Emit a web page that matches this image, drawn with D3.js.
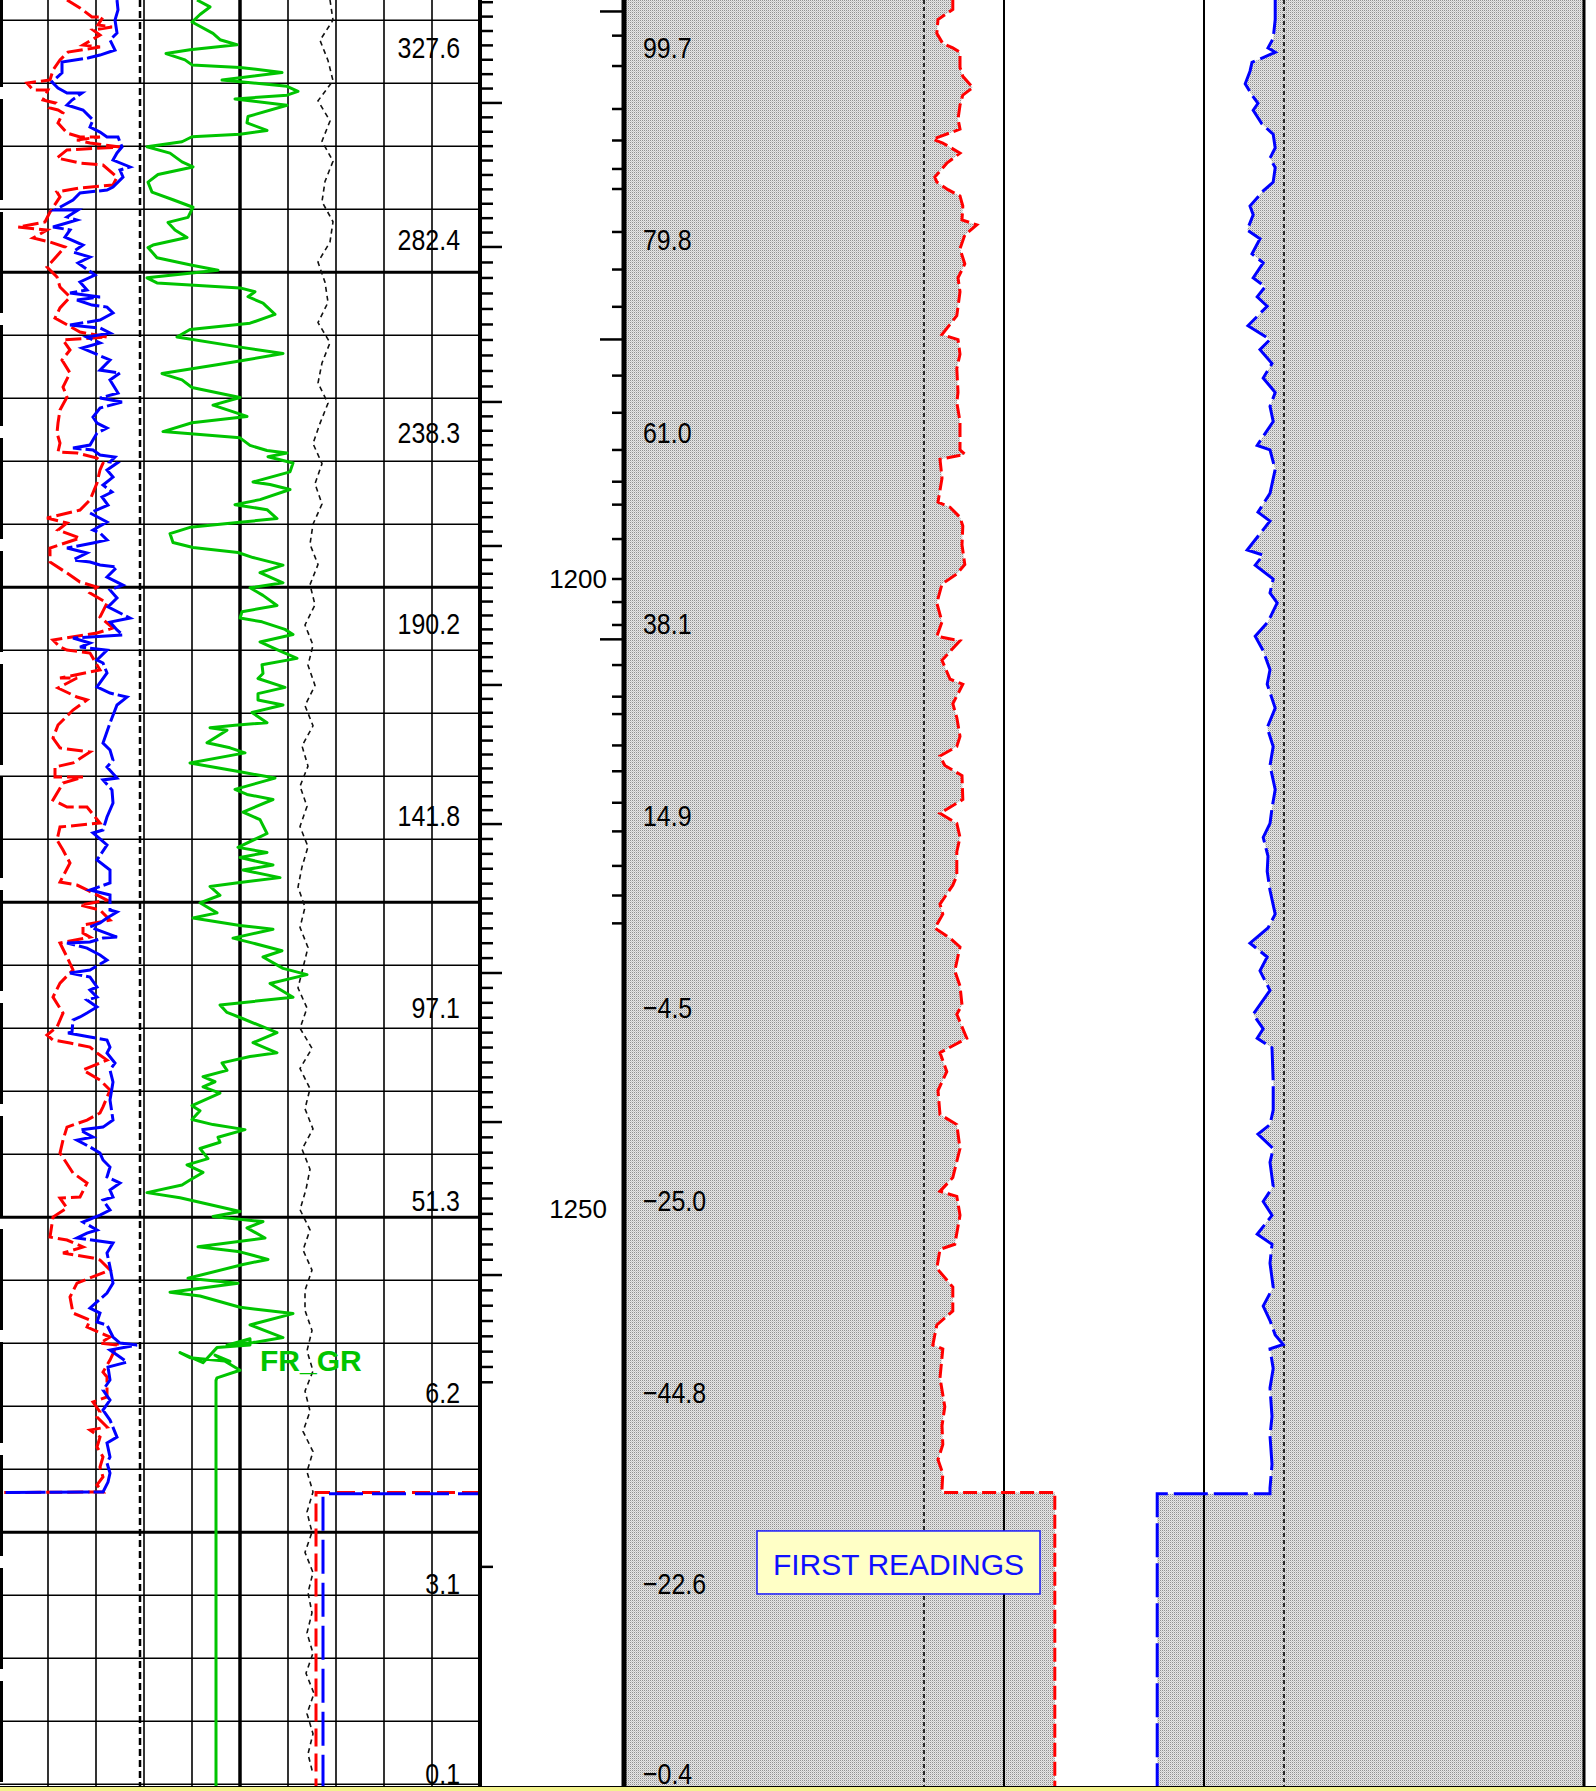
<!DOCTYPE html>
<html>
<head>
<meta charset="utf-8">
<script src="https://cdn.jsdelivr.net/npm/d3@7"></script>
<style>
body { margin: 0; background: #fff; }
svg { display: block; font-family: "Liberation Sans", Arial, sans-serif; }
</style>
</head>
<body>
<svg id="log" width="1596" height="1791"></svg>
<script>
// Depth window of the plot (m)
const depthTop = 1154.05;
const depthBottom = 1295.95;
const stepDepth = 1272.5;

// Left track grid
const gridStart = 1155.65;
const gridStep = 5;

// Labels
const timeLabels = ["327.6", "282.4", "238.3", "190.2", "141.8", "97.1", "51.3", "6.2", "3.1", "0.1"];
const azLabels = ["99.7", "79.8", "61.0", "38.1", "14.9", "\u22124.5", "\u221225.0", "\u221244.8", "\u221222.6", "\u22120.4"];
const labelDepths = [1157.86, 1173.1, 1188.34, 1203.57, 1218.81, 1234.05, 1249.29, 1264.53, 1279.76, 1294.8];
const depthLabels = [1200, 1250];

// Ticks
const depthMajor = [1150.8, 1162.22, 1173.65, 1185.95, 1197.38, 1208.41, 1219.45, 1231.27, 1243.1, 1255.24, 1267.4];
const depthTickEnd = 1264.6;
const depthExtraTick = [1278.4];
const midLong = [1154.96, 1180.99, 1204.79];
const midShort = [1156.88, 1159.29, 1162.7, 1165.2, 1167.46, 1169.05, 1172.46, 1175.44, 1178.4, 1183.86, 1186.81, 1189.76, 1192.28, 1194.1, 1196.83, 1200.0, 1201.83, 1203.65, 1206.83, 1209.34, 1210.72, 1213.21, 1215.26, 1217.76, 1220.03, 1222.77, 1225.12, 1227.33];

// FR_GR [depth, track units]
const grLog = [[1154.05,98.5],[1154.6,105],[1155.2,100],[1155.8,96],[1156.7,106.5],[1157.2,110],[1157.6,118.5],[1158.0,95],[1158.3,83],[1158.8,92.5],[1159.2,96],[1159.4,120],[1159.8,141],[1160.4,111],[1160.9,143.5],[1161.3,149],[1161.6,143.5],[1161.9,117.5],[1162.4,143.5],[1163.3,124],[1163.8,123.5],[1164.4,133.5],[1164.7,120],[1164.9,96],[1165.3,91],[1165.7,73.5],[1166.2,85],[1166.9,91],[1167.3,96.5],[1167.9,79],[1168.5,74],[1169.3,76],[1169.9,86.5],[1170.5,96.5],[1171.3,94],[1171.7,84],[1172.3,87.5],[1172.9,93.5],[1173.5,76.5],[1173.7,74],[1174.5,78.5],[1175.1,96],[1175.5,109],[1176.1,73.5],[1176.5,78.5],[1176.9,120],[1177.2,127.5],[1177.6,124],[1178.1,131.5],[1179.0,137.5],[1179.7,125],[1180.2,95],[1180.8,88.5],[1181.6,120],[1182.1,141.5],[1182.6,123.5],[1183.0,108.5],[1183.7,81],[1184.2,91],[1184.8,96],[1185.6,120],[1186.2,106.5],[1187.1,123.5],[1187.6,96],[1188.3,81.5],[1188.8,120],[1189.4,125],[1189.8,133.5],[1190.0,143.5],[1190.3,134],[1190.8,146.5],[1191.5,145],[1192.3,126.5],[1192.5,135],[1192.9,145],[1193.7,130],[1194.1,117.5],[1194.5,133.5],[1195.2,138.5],[1195.5,120],[1195.9,95],[1196.4,85],[1197.1,86.5],[1197.5,96.5],[1197.9,119],[1198.3,126.5],[1198.9,141.5],[1199.5,130],[1200.3,141.5],[1200.7,125],[1201.3,131.5],[1202.1,138.5],[1202.6,121],[1203.1,120],[1203.4,131],[1204.0,142.5],[1204.4,146.5],[1205.0,130],[1205.6,138.5],[1206.3,148.5],[1206.8,131],[1207.5,131.5],[1207.9,129],[1208.6,142.5],[1209.1,129],[1209.6,129],[1210.0,141.5],[1210.6,126],[1211.4,133.5],[1211.6,117.5],[1211.8,105],[1212.0,113.5],[1213.0,103.5],[1213.4,115],[1213.8,122.5],[1214.6,95],[1215.3,120],[1215.8,137.5],[1216.7,117.5],[1217.1,123.5],[1217.5,136.5],[1218.5,121.5],[1219.1,130],[1220.2,133.5],[1221.3,119],[1221.7,133.5],[1222.1,120],[1222.7,136.5],[1223.1,121.5],[1223.7,140],[1224.1,119],[1224.4,105],[1225.1,110],[1225.7,100],[1226.5,108.5],[1226.9,96.5],[1227.5,120],[1227.8,136.5],[1228.5,116.5],[1228.9,126.5],[1229.5,141],[1230.0,131.5],[1230.9,141.5],[1231.4,153.5],[1232.1,135],[1233.2,146.5],[1233.8,110],[1234.4,113.5],[1234.8,120],[1236.0,138.5],[1236.8,126.5],[1237.6,138.5],[1237.9,125],[1238.4,111],[1239.0,113.5],[1239.5,101.5],[1239.9,107.5],[1240.3,101.5],[1240.8,110],[1241.8,96],[1242.2,100],[1242.9,96],[1243.3,106.5],[1243.7,122.5],[1244.3,109],[1244.7,110],[1245.2,100],[1246.0,104],[1246.5,93.5],[1247.1,101.5],[1247.7,95],[1248.1,91],[1248.7,73.5],[1249.1,90],[1250.2,120],[1250.6,106.5],[1251.0,131.5],[1251.5,123.5],[1252.3,132.5],[1253.0,99],[1253.4,120],[1254.0,134],[1254.4,121.5],[1255.5,94],[1255.9,119],[1256.6,85],[1256.9,100],[1257.8,120],[1258.3,146.5],[1259.2,125],[1260.2,141.5],[1260.6,126.5],[1260.8,113.5],[1260.3,125],[1260.8,125],[1261.0,108.5],[1262.2,101.5],[1261.4,90],[1261.8,95],[1262.1,115],[1261.6,107.5],[1262.8,120],[1263.4,108.5],[1263.6,108],[1295.95,108]];

// Red (dashed) left-track curve
const redLog = [[1154.05,33.5],[1154.68,40],[1155.4,46],[1155.4,51.5],[1156.03,49],[1156.19,56],[1156.43,46.5],[1156.83,50],[1157.62,41.5],[1157.78,50],[1158.18,34],[1158.81,30],[1159.61,26.5],[1160.4,25],[1160.64,13.5],[1161.19,16.5],[1161.19,24],[1161.99,21.5],[1162.22,27.5],[1162.62,25],[1162.78,29],[1163.02,31.5],[1163.81,29],[1164.61,33.5],[1164.92,40],[1164.92,50],[1165.16,38.5],[1165.4,45],[1165.72,60],[1165.95,33.5],[1166.59,28.5],[1166.99,40],[1167.15,51.5],[1168.1,58.5],[1168.73,56.5],[1168.97,40],[1169.29,28.5],[1169.68,30],[1170.88,25],[1171.67,22.5],[1172.07,9],[1172.3,23.5],[1172.94,16.5],[1173.26,25],[1173.65,32.5],[1175.24,23.5],[1176.03,28.5],[1176.83,30],[1177.62,35],[1178.49,30],[1179.29,27.5],[1180.4,40],[1180.8,53.5],[1181.03,31.5],[1181.83,35],[1182.62,31],[1183.65,35],[1184.76,31.5],[1185.56,33.5],[1186.59,30],[1187.62,29],[1188.42,28.5],[1189.21,30],[1189.92,29],[1190.0,38.5],[1190.4,48.5],[1190.8,51.5],[1191.35,50],[1192.38,48.5],[1193.73,45],[1194.53,40],[1195.16,23.5],[1195.56,33.5],[1196.11,29],[1196.75,40],[1197.54,25],[1198.65,25],[1199.53,33.5],[1200.24,40],[1200.64,48.5],[1201.11,45],[1201.91,53.5],[1203.02,50],[1203.89,56.5],[1204.29,48.5],[1204.84,26.5],[1205.4,30],[1205.64,33.5],[1205.88,45],[1207.22,50],[1207.86,30],[1207.86,38.5],[1208.65,29],[1209.37,38.5],[1209.6,43.5],[1210.4,36.5],[1211.59,29],[1212.62,26.5],[1213.41,30],[1213.73,45],[1214.6,36.5],[1214.92,27.5],[1215.72,27.5],[1215.72,41.5],[1216.19,31.5],[1217.54,26.5],[1218.1,33.5],[1218.1,43.5],[1219.37,50],[1219.68,30],[1220.72,28.5],[1221.51,31.5],[1222.54,35],[1224.05,30],[1224.29,38.5],[1224.68,43.5],[1225.48,53.5],[1225.88,40],[1226.27,50],[1227.07,55],[1227.46,41.5],[1228.1,41.5],[1228.42,45],[1228.89,30],[1230.0,33.5],[1231.03,36.5],[1232.07,30],[1233.18,26.5],[1234.45,31.5],[1235.56,28.5],[1236.19,23.5],[1236.59,26.5],[1236.83,35],[1237.15,45],[1237.62,48.5],[1238.18,53.5],[1238.97,41.5],[1239.76,50],[1240.56,55],[1241.9,51.5],[1242.38,50],[1242.94,43.5],[1243.5,33.5],[1244.53,31.5],[1245.56,30],[1247.14,36.5],[1247.94,43.5],[1249.05,40],[1249.13,30],[1249.92,33.5],[1250.64,26.5],[1252.23,25],[1252.46,33.5],[1253.02,41.5],[1253.49,31.5],[1253.89,46.5],[1254.05,50],[1254.84,55],[1255.88,38.5],[1256.98,35],[1258.26,36.5],[1258.81,45],[1259.37,43.5],[1260.16,55],[1260.64,50],[1260.8,58.5],[1261.99,55],[1262.94,51.5],[1263.34,53.5],[1264.92,53.5],[1265.32,46.5],[1266.11,50],[1266.51,48.5],[1267.3,53.5],[1267.54,45],[1268.1,50],[1268.89,48.5],[1269.68,51.5],[1270.48,50],[1271.27,51.5],[1271.9,48.5],[1272.46,51.5],[1272.5,0]];

// Blue left-track curve
const blueLog = [[1154.05,58.5],[1154.84,59],[1155.64,57.5],[1156.67,58.5],[1157.22,55],[1158.02,57.5],[1158.42,50],[1158.65,44],[1158.97,31],[1159.84,31],[1160.56,26],[1161.03,29],[1161.43,33.5],[1161.43,41],[1161.99,36],[1162.38,33.5],[1162.78,41.5],[1163.57,46.5],[1164.13,45],[1164.53,50],[1164.92,53.5],[1164.92,59],[1165.72,61],[1166.19,58.5],[1166.75,56.5],[1167.3,65],[1167.54,60],[1168.1,61.5],[1168.89,56.5],[1169.13,53.5],[1169.37,40],[1169.92,36.5],[1170.72,27.5],[1170.72,39],[1171.27,33.5],[1171.51,38.5],[1172.07,26.5],[1172.3,35],[1172.86,32.5],[1173.5,41.5],[1174.05,36.5],[1174.45,45],[1174.92,39],[1175.88,47.5],[1176.43,40],[1177.07,43.5],[1177.3,35],[1177.62,50],[1177.86,38.5],[1178.26,46],[1178.42,53.5],[1178.89,56.5],[1179.45,50],[1179.84,35],[1180.08,50],[1180.48,55],[1180.8,43.5],[1181.27,50],[1181.67,41],[1182.62,55],[1183.42,50],[1183.65,60],[1184.21,55],[1185.24,59],[1185.64,50],[1185.96,61],[1186.43,50],[1187.15,46.5],[1187.62,48.5],[1188.02,53.5],[1188.42,48.5],[1189.37,45],[1189.61,36.5],[1189.76,46.5],[1190.16,50],[1190.32,57.5],[1190.72,55],[1190.8,58.5],[1191.35,53.5],[1191.91,56.5],[1192.54,51.5],[1193.1,56],[1193.49,51],[1194.13,54],[1194.76,45],[1195.48,53.5],[1196.11,46.5],[1196.35,50],[1196.9,53.5],[1197.14,46.5],[1197.54,33.5],[1197.94,43.5],[1198.49,36.5],[1198.65,45],[1198.89,50],[1199.05,58.5],[1199.84,53.5],[1200.48,61.5],[1200.87,55],[1201.51,58.5],[1202.22,54],[1203.1,65],[1203.42,55],[1204.05,58.5],[1204.45,61.5],[1204.68,36.5],[1205.08,45],[1205.4,40],[1205.64,53.5],[1206.43,48.5],[1206.67,51.5],[1207.46,53.5],[1208.57,48.5],[1209.05,55],[1209.37,63.5],[1210.0,58.5],[1211.43,55],[1213.02,51.5],[1213.57,55],[1214.37,56.5],[1214.92,53.5],[1215.8,58.5],[1215.95,51.5],[1216.75,56],[1217.78,56.5],[1218.89,53.5],[1219.92,51.5],[1220.16,46.5],[1221.11,53.5],[1222.3,48.5],[1223.1,55],[1224.13,55],[1224.68,45],[1225.08,55],[1226.27,55],[1226.43,58.5],[1226.9,53.5],[1227.3,50],[1227.62,45],[1228.42,58.5],[1228.5,51.5],[1228.81,45],[1228.89,33.5],[1229.29,43.5],[1229.84,50],[1230.24,53.5],[1231.03,45],[1231.27,35],[1231.59,45],[1232.38,48.5],[1232.62,45],[1233.18,48.5],[1233.42,43.5],[1233.97,48.5],[1234.45,43.5],[1234.76,40],[1235.0,36.5],[1235.95,36],[1236.03,34],[1236.35,45],[1236.59,53.5],[1237.15,55],[1237.62,53.5],[1238.42,57.5],[1238.97,55],[1239.92,56.5],[1241.35,55],[1242.94,56.5],[1243.5,51.5],[1243.73,40],[1244.29,46.5],[1244.53,38.5],[1245.08,45],[1245.56,50],[1246.11,51.5],[1246.67,55],[1247.46,53.5],[1247.94,60],[1248.49,55],[1249.05,56.5],[1249.29,51.5],[1250.08,55],[1250.48,50],[1251.03,41.5],[1251.67,48.5],[1251.91,43.5],[1252.3,38.5],[1252.7,56.5],[1253.49,53.5],[1254.6,55],[1255.88,56.5],[1256.67,53.5],[1257.86,45],[1258.26,50],[1258.97,48.5],[1259.21,53.5],[1260.16,56.5],[1260.64,60],[1260.8,68.5],[1261.19,55],[1262.15,63.5],[1262.54,54],[1263.57,55],[1264.37,51.5],[1265.16,55],[1265.96,51.5],[1266.75,55],[1268.1,58.5],[1268.57,53.5],[1269.68,55],[1270.16,53.5],[1270.95,55],[1271.67,54],[1272.46,51.5],[1272.5,0]];

// Wrapped (backup) parts below the step
const redWrap = [[1272.5, 240], [1272.5, 158], [1295.95, 158]];
const blueWrap = [[1272.6, 240], [1272.6, 161.5], [1295.95, 161.5]];

// Tension, sampled every 1.6 m from the top
const tensionStep = 1.6;
const tensionValues = [165,166.5,160,164,166.5,159,165,161,166.5,162.5,161,166.5,165,159,162.5,164,159,165,161,159,164,160,156.5,161,157.5,161,156.5,155,159,155,157.5,152.5,156.5,154,157.5,152.5,156.5,151,154,150,153.5,150,154,151,149,152.5,150,154,151.5,149,153.5,150,156,150,155,152.5,156.5,151,155,153,150,155,151.5,156,152.5,152.5,156,153.5,156.5,152.5,155,151.5,156.5,153.5,156.5,153.5,156,152.5,156.5,154,156,153.5,156.5,153,157,153.5,156.5,154,156.5];

// Caliper radii (in), right panel [depth, radius]
const calRed = [[1154.05,3.78],[1154.8,3.78],[1155.6,4.15],[1156.7,4.18],[1157.5,4.03],[1157.85,3.78],[1158.2,3.6],[1159.4,3.6],[1160.1,3.53],[1161.0,3.28],[1161.6,3.53],[1162.4,3.6],[1163.5,3.65],[1164.3,3.6],[1165.1,4.28],[1165.4,4.03],[1166.2,3.6],[1167.0,3.93],[1168.1,4.23],[1168.5,4.18],[1169.1,3.9],[1169.6,3.6],[1170.4,3.53],[1171.5,3.55],[1171.9,3.18],[1172.7,3.48],[1173.8,3.6],[1175.0,3.48],[1176.1,3.65],[1177.2,3.6],[1179.1,3.68],[1180.6,4.05],[1181.0,3.65],[1182.15,3.6],[1183.3,3.68],[1185.2,3.65],[1186.0,3.68],[1187.5,3.6],[1189.75,3.6],[1190.1,3.48],[1190.5,4.1],[1192.0,4.05],[1193.9,4.15],[1194.3,3.85],[1195.1,3.6],[1195.8,3.53],[1197.3,3.55],[1198.85,3.48],[1199.6,3.68],[1200.4,4.05],[1201.9,4.18],[1203.4,4.05],[1204.55,4.18],[1204.9,3.6],[1206.45,4.05],[1207.95,3.85],[1208.35,3.53],[1209.9,3.78],[1211.0,3.68],[1212.5,3.6],[1213.3,3.68],[1214.05,4.1],[1214.8,3.98],[1215.6,3.55],[1217.5,3.53],[1218.6,4.1],[1219.4,3.68],[1220.5,3.6],[1221.65,3.68],[1223.55,3.68],[1224.3,3.78],[1225.8,4.1],[1226.6,4.03],[1227.7,4.23],[1228.5,3.85],[1229.2,3.6],[1231.1,3.73],[1232.3,3.6],[1233.8,3.55],[1234.55,3.68],[1236.45,3.43],[1237.6,4.1],[1239.1,3.93],[1240.6,4.15],[1242.5,4.1],[1243.3,3.68],[1245.2,3.6],[1247.5,3.78],[1248.6,4.1],[1249.0,3.68],[1250.5,3.6],[1252.8,3.73],[1253.2,4.1],[1254.7,4.18],[1256.2,3.78],[1258.1,3.78],[1259.2,4.18],[1260.8,4.28],[1261.1,4.03],[1263.4,4.1],[1265.7,3.98],[1267.2,4.05],[1268.7,4.03],[1269.9,4.15],[1271.0,4.03],[1272.2,4.05],[1272.5,4.05],[1272.5,1.23],[1295.95,1.23]];
const calBlue = [[1154.05,4.28],[1155.6,4.28],[1157.1,4.23],[1157.85,4.1],[1158.2,4.28],[1159.0,3.7],[1159.7,3.65],[1160.7,3.53],[1161.6,3.7],[1162.25,3.85],[1162.8,3.73],[1163.9,3.95],[1164.7,4.23],[1165.8,4.28],[1166.6,4.15],[1167.35,4.28],[1168.5,4.23],[1169.2,3.98],[1170.4,3.65],[1171.1,3.73],[1172.3,3.58],[1173.0,3.9],[1174.2,3.7],[1174.9,3.98],[1176.1,3.73],[1176.8,4.03],[1177.6,3.83],[1178.35,4.08],[1179.9,3.6],[1181.0,4.15],[1181.8,3.9],[1182.9,4.2],[1184.05,3.98],[1185.2,4.28],[1186.3,4.15],[1187.5,4.23],[1189.4,3.83],[1189.75,4.15],[1191.3,4.28],[1193.2,4.15],[1194.7,3.85],[1195.4,4.15],[1197.7,3.58],[1198.1,3.98],[1198.9,3.78],[1200.0,4.23],[1201.1,4.15],[1201.9,4.33],[1203.4,4.1],[1204.55,3.78],[1205.7,3.98],[1207.2,4.15],[1208.35,4.08],[1210.25,4.28],[1211.8,4.08],[1213.3,4.23],[1214.8,4.15],[1216.7,4.28],[1218.2,4.2],[1219.4,4.15],[1220.5,3.98],[1222.0,4.1],[1223.2,4.08],[1224.7,4.15],[1226.6,4.28],[1227.7,4.1],[1228.9,3.65],[1230.0,4.08],[1231.1,3.9],[1232.65,4.15],[1234.55,3.73],[1235.7,3.98],[1236.45,3.83],[1237.2,4.2],[1239.9,4.23],[1242.15,4.23],[1243.3,4.15],[1244.05,3.85],[1245.2,4.23],[1246.3,4.15],[1248.2,4.23],[1249.4,3.98],[1250.5,4.2],[1252.0,3.83],[1252.8,4.2],[1254.3,4.15],[1256.2,4.23],[1257.7,3.98],[1258.85,4.15],[1260.0,4.28],[1260.75,4.48],[1261.1,4.15],[1262.65,4.23],[1264.2,4.15],[1266.45,4.2],[1268.0,4.15],[1270.25,4.2],[1272.15,4.15],[1272.6,4.15],[1272.6,1.33],[1295.95,1.33]];
const bitRadius = 4.5;
const toolRadius = 2.5;

const RED = "#ff0000", BLUE = "#0000ff", GREEN = "#00c400";

const svg = d3.select("#log");
const plotBottom = 1788;

const y = d3.scaleLinear().domain([depthTop, depthBottom]).range([0, plotBottom]);
const xL = d3.scaleLinear().domain([0, 240]).range([0, 480]);
const xR = d3.scaleLinear().domain([-12, 12]).range([624, 1584]);

const defs = svg.append("defs");
const pat = defs.append("pattern").attr("id", "stipple")
    .attr("width", 2).attr("height", 2).attr("patternUnits", "userSpaceOnUse");
pat.append("rect").attr("width", 2).attr("height", 2).attr("fill", "#e6e6e6");
pat.append("rect").attr("width", 1).attr("height", 1).attr("fill", "#909090");
pat.append("rect").attr("x", 1).attr("y", 1).attr("width", 1).attr("height", 1).attr("fill", "#c8c8c8");
defs.append("clipPath").attr("id", "clipL").append("rect")
    .attr("x", 0).attr("y", 0).attr("width", xL(240)).attr("height", plotBottom);
defs.append("clipPath").attr("id", "clipR").append("rect")
    .attr("x", xR(-12) + 2).attr("y", 0).attr("width", xR(12) - xR(-12) - 3).attr("height", plotBottom);

// ---------- right panel (calipers) ----------
const gR = svg.append("g").attr("clip-path", "url(#clipR)");

gR.append("path").datum(calRed)
    .attr("d", d3.area().y(d => y(d[0])).x0(xR(-12)).x1(d => xR(-d[1])))
    .attr("fill", "url(#stipple)");
gR.append("path").datum(calBlue)
    .attr("d", d3.area().y(d => y(d[0])).x0(d => xR(d[1])).x1(xR(12)))
    .attr("fill", "url(#stipple)");

[-bitRadius, bitRadius].forEach(v => {
    gR.append("line").attr("x1", xR(v)).attr("x2", xR(v)).attr("y1", 0).attr("y2", plotBottom)
        .attr("stroke", "#000").attr("stroke-width", 1.6).attr("stroke-dasharray", "4 3");
});
[-toolRadius, toolRadius].forEach(v => {
    gR.append("line").attr("x1", xR(v)).attr("x2", xR(v)).attr("y1", 0).attr("y2", plotBottom)
        .attr("stroke", "#000").attr("stroke-width", 2);
});

gR.append("path").datum(calRed)
    .attr("d", d3.line().x(d => xR(-d[1])).y(d => y(d[0])))
    .attr("fill", "none").attr("stroke", RED).attr("stroke-width", 3)
    .attr("stroke-dasharray", "14 5");
gR.append("path").datum(calBlue)
    .attr("d", d3.line().x(d => xR(d[1])).y(d => y(d[0])))
    .attr("fill", "none").attr("stroke", BLUE).attr("stroke-width", 3)
    .attr("stroke-dasharray", "34 6");

// ---------- left track ----------
const gL = svg.append("g").attr("clip-path", "url(#clipL)");

d3.range(gridStart, depthBottom, gridStep).forEach((d, i) => {
    gL.append("line").attr("x1", 0).attr("x2", xL(240)).attr("y1", y(d)).attr("y2", y(d))
        .attr("stroke", "#000").attr("stroke-width", i % 5 === 4 ? 3 : 1.5);
});
d3.range(24, 240, 24).forEach(v => {
    gL.append("line").attr("x1", xL(v)).attr("x2", xL(v)).attr("y1", 0).attr("y2", plotBottom)
        .attr("stroke", "#000").attr("stroke-width", v === 120 ? 3.5 : 1.6);
});
gL.append("line").attr("x1", xL(70)).attr("x2", xL(70)).attr("y1", 0).attr("y2", plotBottom)
    .attr("stroke", "#000").attr("stroke-width", 2.5).attr("stroke-dasharray", "7 4");

const lineL = d3.line().x(d => xL(d[1])).y(d => y(d[0]));

gL.append("path").datum(tensionValues.map((v, i) => [depthTop + i * tensionStep, v]))
    .attr("d", lineL).attr("fill", "none").attr("stroke", "#111")
    .attr("stroke-width", 1.6).attr("stroke-dasharray", "5 4");

gL.append("path").datum(grLog).attr("d", lineL)
    .attr("fill", "none").attr("stroke", GREEN).attr("stroke-width", 3).attr("stroke-linejoin", "round");

gL.append("path").datum(redLog).attr("d", lineL)
    .attr("fill", "none").attr("stroke", RED).attr("stroke-width", 3).attr("stroke-dasharray", "16 5");
gL.append("path").datum(redWrap).attr("d", lineL)
    .attr("fill", "none").attr("stroke", RED).attr("stroke-width", 3).attr("stroke-dasharray", "18 7");
gL.append("path").datum(blueLog).attr("d", lineL)
    .attr("fill", "none").attr("stroke", BLUE).attr("stroke-width", 3).attr("stroke-dasharray", "40 4");
gL.append("path").datum(blueWrap).attr("d", lineL)
    .attr("fill", "none").attr("stroke", BLUE).attr("stroke-width", 3)
    .attr("stroke-dasharray", "34 9").attr("stroke-dashoffset", 12);

// left border (dashed heavy line)
svg.append("line").attr("x1", 1.5).attr("x2", 1.5).attr("y1", 0).attr("y2", plotBottom)
    .attr("stroke", "#000").attr("stroke-width", 3)
    .attr("stroke-dasharray", "101 12").attr("stroke-dashoffset", 14);

// ---------- depth axis at right of left track ----------
const axX = xL(240);
svg.append("line").attr("x1", axX).attr("x2", axX).attr("y1", 0).attr("y2", plotBottom)
    .attr("stroke", "#000").attr("stroke-width", 4);

const minorTicks = [];
for (let i = 0; i < depthMajor.length - 1; i++) {
    for (let j = 1; j < 10; j++) {
        minorTicks.push(depthMajor[i] + (depthMajor[i + 1] - depthMajor[i]) * j / 10);
    }
}
minorTicks.filter(d => d > depthTop && d < depthTickEnd).concat(depthExtraTick).forEach(d => {
    svg.append("line").attr("x1", axX).attr("x2", axX + 13).attr("y1", y(d)).attr("y2", y(d))
        .attr("stroke", "#000").attr("stroke-width", 2.5);
});
depthMajor.filter(d => d > depthTop && d < depthTickEnd).forEach(d => {
    svg.append("line").attr("x1", axX).attr("x2", axX + 22).attr("y1", y(d)).attr("y2", y(d))
        .attr("stroke", "#000").attr("stroke-width", 2.5);
});

// ---------- middle axis (left of caliper panel) ----------
const midX = xR(-12);
svg.append("line").attr("x1", midX).attr("x2", midX).attr("y1", 0).attr("y2", plotBottom)
    .attr("stroke", "#000").attr("stroke-width", 5);
midShort.forEach(d => {
    svg.append("line").attr("x1", midX - 12).attr("x2", midX).attr("y1", y(d)).attr("y2", y(d))
        .attr("stroke", "#000").attr("stroke-width", 2.5);
});
midLong.forEach(d => {
    svg.append("line").attr("x1", midX - 24).attr("x2", midX).attr("y1", y(d)).attr("y2", y(d))
        .attr("stroke", "#000").attr("stroke-width", 2.5);
});
svg.append("line").attr("x1", xR(12)).attr("x2", xR(12)).attr("y1", 0).attr("y2", plotBottom)
    .attr("stroke", "#000").attr("stroke-width", 3);

// ---------- labels ----------
timeLabels.forEach((t, i) => {
    svg.append("text")
        .attr("transform", `translate(${axX - 20},${y(labelDepths[i])}) scale(0.86,1)`)
        .attr("dy", "0.36em").attr("text-anchor", "end")
        .style("font-size", "29px").attr("fill", "#000").text(t);
});
azLabels.forEach((t, i) => {
    svg.append("text")
        .attr("transform", `translate(${midX + 19},${y(labelDepths[i])}) scale(0.86,1)`)
        .attr("dy", "0.36em").attr("text-anchor", "start")
        .style("font-size", "29px").attr("fill", "#000").text(t);
});
depthLabels.forEach(d => {
    svg.append("text").attr("x", midX - 17).attr("y", y(d)).attr("dy", "0.36em")
        .attr("text-anchor", "end").style("font-size", "26px").text(d);
});

svg.append("text").attr("x", xL(130)).attr("y", y(1262.0)).attr("dy", "0.36em")
    .style("font-size", "30px").style("font-weight", "bold").attr("fill", GREEN).text("FR_GR");

// annotation box
const bx = xR(-8.675), by = y(1275.55);
svg.append("rect").attr("x", bx).attr("y", by).attr("width", 283).attr("height", 63)
    .attr("fill", "#ffffc6").attr("stroke", "#1a1aff").attr("stroke-width", 1.5);
svg.append("text").attr("x", bx + 141.5).attr("y", by + 33).attr("dy", "0.36em")
    .attr("text-anchor", "middle").style("font-size", "30px").attr("fill", "#1010ff")
    .text("FIRST READINGS");

// bottom strip
svg.append("rect").attr("x", 0).attr("y", plotBottom - 1).attr("width", 1596).attr("height", 4)
    .attr("fill", "#f2f28a");
svg.append("line").attr("x1", 0).attr("x2", 1596).attr("y1", plotBottom - 1.5).attr("y2", plotBottom - 1.5)
    .attr("stroke", "#000").attr("stroke-width", 1);
</script>
</body>
</html>
